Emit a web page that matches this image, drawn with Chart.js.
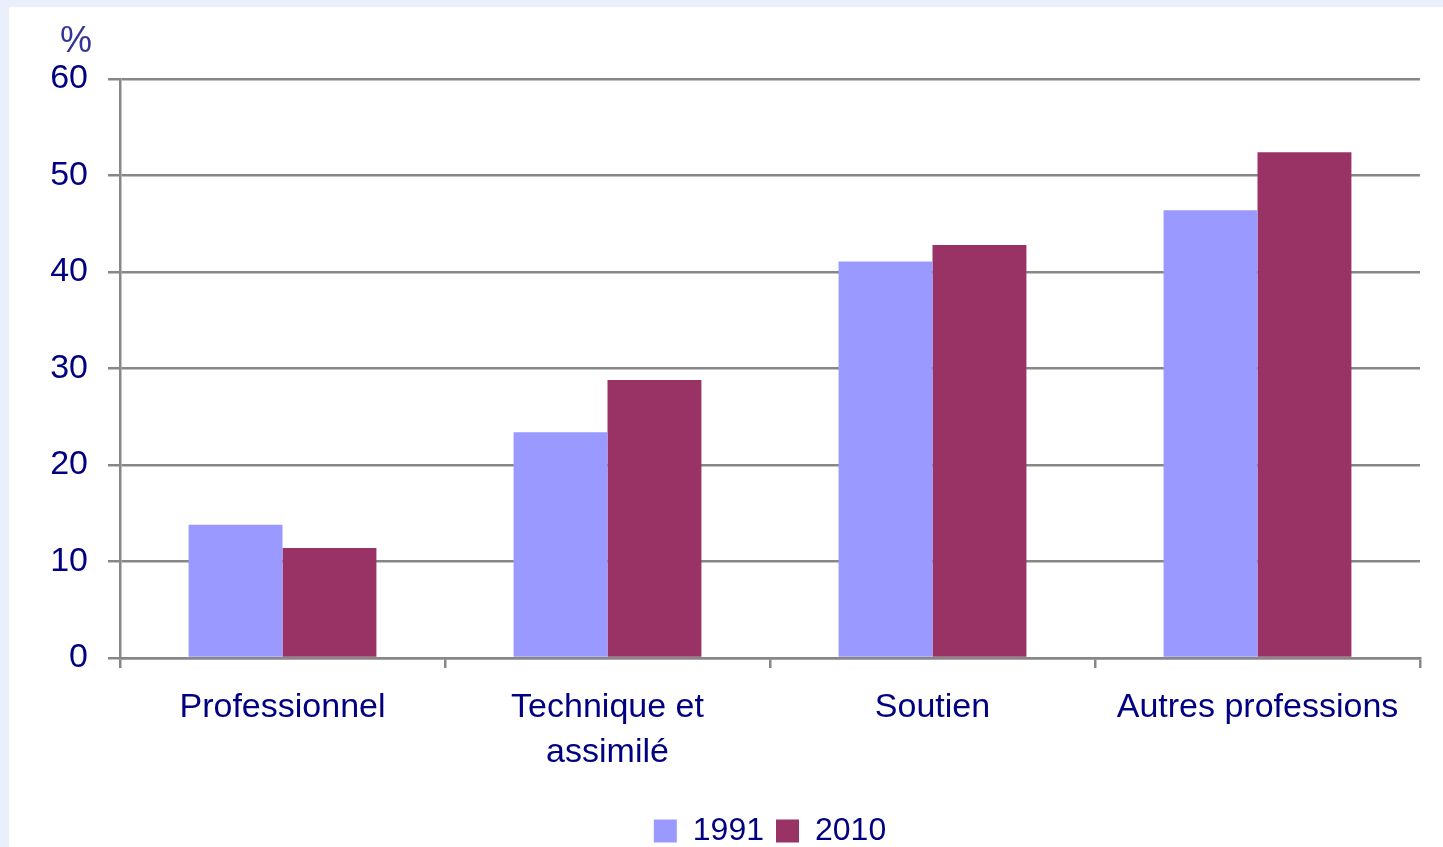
<!DOCTYPE html>
<html><head><meta charset="utf-8">
<script src="https://cdn.jsdelivr.net/npm/chart.js@4"></script>
<style>
html,body{margin:0;padding:0;background:#e9effb;width:1443px;height:847px;overflow:hidden;}
#wrap{position:absolute;left:9px;top:7px;width:1434px;height:840px;background:#fff;}
</style></head><body>
<div id="wrap"><canvas id="c" width="1434" height="840"></canvas></div>
<script>
const categories = ['Professionnel', ['Technique et', 'assimilé'], 'Soutien', 'Autres professions'];
const seriesNames = ['1991', '2010'];
const values1991 = [13.8, 23.4, 41.1, 46.4];
const values2010 = [11.4, 28.8, 42.8, 52.4];
const yTicks = [0, 10, 20, 30, 40, 50, 60];
const unitLabel = '%';

const navy = '#000080';
const grey = '#878787';
const FONT = "'Liberation Sans', Arial, sans-serif";

const unitPlugin = {
  id: 'unit',
  afterDraw(chart) {
    const ctx = chart.ctx; const y = chart.scales.y;
    ctx.save();
    ctx.font = '36px ' + FONT;
    ctx.fillStyle = '#333399';
    ctx.textAlign = 'center'; ctx.textBaseline = 'middle';
    ctx.fillText(unitLabel, y.left + 67, y.top - 37);
    ctx.restore();
  }
};

new Chart(document.getElementById('c'), {
  type: 'bar',
  data: {
    labels: categories,
    datasets: [
      { label: seriesNames[0], data: values1991, backgroundColor: '#9999ff', borderWidth: 0 },
      { label: seriesNames[1], data: values2010, backgroundColor: '#993366', borderWidth: 0 }
    ]
  },
  plugins: [unitPlugin],
  options: {
    responsive: false, animation: false,
    layout: { padding: { left: 0, right: 23, top: 72, bottom: -10 } },
    datasets: { bar: { barPercentage: 1.0, categoryPercentage: 0.578 } },
    plugins: {
      tooltip: { enabled: false },
      legend: {
        position: 'bottom', fullSize: false,
        labels: { color: navy, font: { family: FONT, size: 32 }, boxWidth: 23, boxHeight: 23, padding: 12 }
      }
    },
    scales: {
      x: {
        grid: { display: true, drawOnChartArea: false, drawTicks: true, tickLength: 10, color: grey, lineWidth: 2.5, offset: true },
        border: { display: true, color: grey, width: 2.5 },
        ticks: { color: navy, font: { family: FONT, size: 34, lineHeight: 1.3 }, padding: 18, maxRotation: 0, autoSkip: false },
        afterFit(s) { s.height = 145; }
      },
      y: {
        min: 0, max: 60,
        afterBuildTicks(s) { s.ticks = yTicks.map(v => ({ value: v })); },
        grid: { color: grey, lineWidth: 2.5, drawTicks: true, tickLength: 12 },
        border: { display: true, color: grey, width: 2.5 },
        ticks: { color: navy, font: { family: FONT, size: 34 }, padding: 20 },
        afterFit(s) { s.width = 111; }
      }
    }
  }
});
</script>
</body></html>
